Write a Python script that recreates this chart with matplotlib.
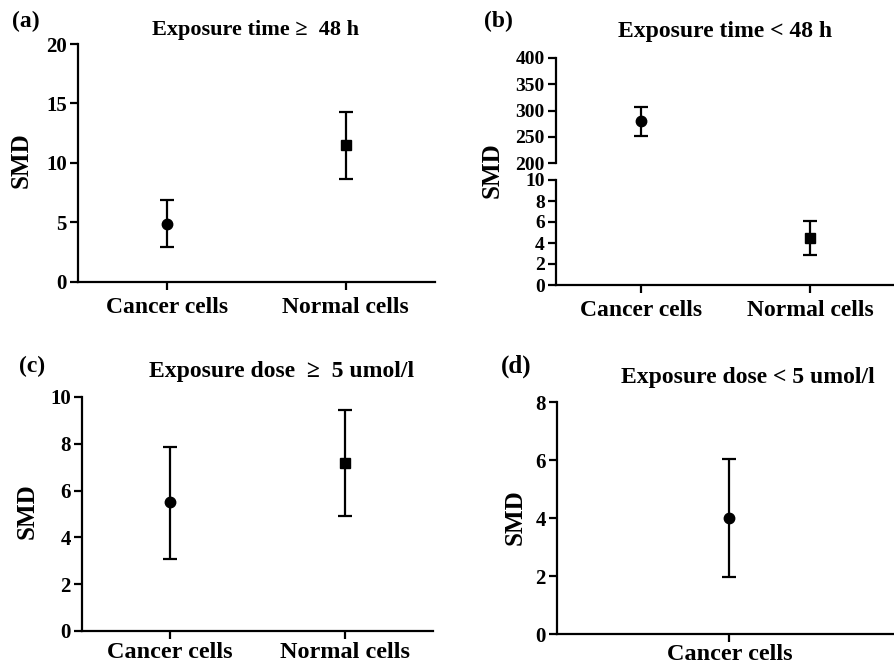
import matplotlib
matplotlib.use('Agg')
import matplotlib.pyplot as plt

plt.rcParams['font.family'] = ['Liberation Serif', 'DejaVu Serif']
plt.rcParams['font.weight'] = 'bold'

# SMD values with lower / upper CI bounds
cells = ['Cancer cells', 'Normal cells']
markers = ['o', 's']

a_mean = [4.85, 11.5]
a_low = [2.9, 8.65]
a_high = [6.85, 14.3]

b_mean = [280, 4.5]
b_low = [252, 2.9]
b_high = [306, 6.1]

c_mean = [5.5, 7.2]
c_low = [3.08, 4.93]
c_high = [7.88, 9.43]

d_cells = ['Cancer cells']
d_mean = [4.0]
d_low = [1.97]
d_high = [6.05]

W, H = 895, 668
fig = plt.figure(figsize=(W / 100, H / 100), dpi=100)


def px_axes(left, top, right, bottom):
    # axes from pixel box
    return fig.add_axes([left / W, 1 - bottom / H, (right - left) / W, (bottom - top) / H])


def style(ax, ytick_size=15, xtick_size=17, xpad=5):
    for s in ['top', 'right']:
        ax.spines[s].set_visible(False)
    for s in ['left', 'bottom']:
        ax.spines[s].set_linewidth(1.6)
    ax.tick_params(width=1.6, length=6, labelsize=ytick_size, axis='y', pad=2)
    ax.tick_params(width=1.6, length=6, labelsize=xtick_size, axis='x', pad=xpad)
    for lab in ax.get_xticklabels() + ax.get_yticklabels():
        lab.set_fontweight('bold')


def draw_points(ax, names, mean, low, high):
    for i, name in enumerate(names):
        ax.errorbar(i, mean[i], yerr=[[mean[i] - low[i]], [high[i] - mean[i]]],
                    fmt=markers[i], color='black', ms=7.5, elinewidth=1.6,
                    capsize=5, capthick=1.6)


def fig_text(x, y, s, size, **kw):
    fig.text(x / W, 1 - y / H, s, fontsize=size, fontweight='bold',
             ha='center', va='center', **kw)


# (a)
ax = px_axes(78, 44, 435, 282)
draw_points(ax, cells, a_mean, a_low, a_high)
ax.set_xlim(-0.5, 1.5)
ax.set_ylim(0, 20)
ax.set_yticks([0, 5, 10, 15, 20])
ax.set_xticks(range(len(cells)))
ax.set_xticklabels(cells)
style(ax)
fig_text(26, 21, '(a)', 17)
fig_text(256, 30, 'Exposure time \u2265  48 h', 16)
fig_text(21, 160, 'SMD', 18, rotation=90)

# (b) broken axis
ax_up = px_axes(556, 58, 895, 163)
ax_lo = px_axes(556, 180, 895, 285)
for axx in [ax_up, ax_lo]:
    draw_points(axx, cells, b_mean, b_low, b_high)
    axx.set_xlim(-0.5, 1.5)
ax_up.set_ylim(200, 400)
ax_up.set_yticks([200, 250, 300, 350, 400])
ax_lo.set_ylim(0, 10)
ax_lo.set_yticks([0, 2, 4, 6, 8, 10])
ax_lo.set_xticks(range(len(cells)))
ax_lo.set_xticklabels(cells)
style(ax_lo, ytick_size=14)
style(ax_up, ytick_size=14)
ax_up.spines['bottom'].set_visible(False)
ax_up.set_xticks([])
fig_text(498, 21, '(b)', 17)
fig_text(725, 31, 'Exposure time < 48 h', 17)
fig_text(492, 170, 'SMD', 18, rotation=90)

# (c)
ax = px_axes(82, 397, 433, 631)
draw_points(ax, cells, c_mean, c_low, c_high)
ax.set_xlim(-0.5, 1.5)
ax.set_ylim(0, 10)
ax.set_yticks([0, 2, 4, 6, 8, 10])
ax.set_xticks(range(len(cells)))
ax.set_xticklabels(cells)
style(ax, xtick_size=17.5, xpad=2)
fig_text(32, 366, '(c)', 17)
fig_text(282, 371, 'Exposure dose  \u2265  5 umol/l', 17)
fig_text(27, 511, 'SMD', 18, rotation=90)

# (d)
ax = px_axes(557, 402, 895, 634)
draw_points(ax, d_cells, d_mean, d_low, d_high)
ax.set_xlim(-0.51, 0.49)
ax.set_ylim(0, 8)
ax.set_yticks([0, 2, 4, 6, 8])
ax.set_xticks(range(len(d_cells)))
ax.set_xticklabels(d_cells)
style(ax, xtick_size=17.5, xpad=1)
fig_text(516, 366, '(d)', 18)
fig_text(748, 377, 'Exposure dose < 5 umol/l', 17)
fig_text(515, 517, 'SMD', 18, rotation=90)

fig.savefig('out.png', dpi=100, facecolor='white')
